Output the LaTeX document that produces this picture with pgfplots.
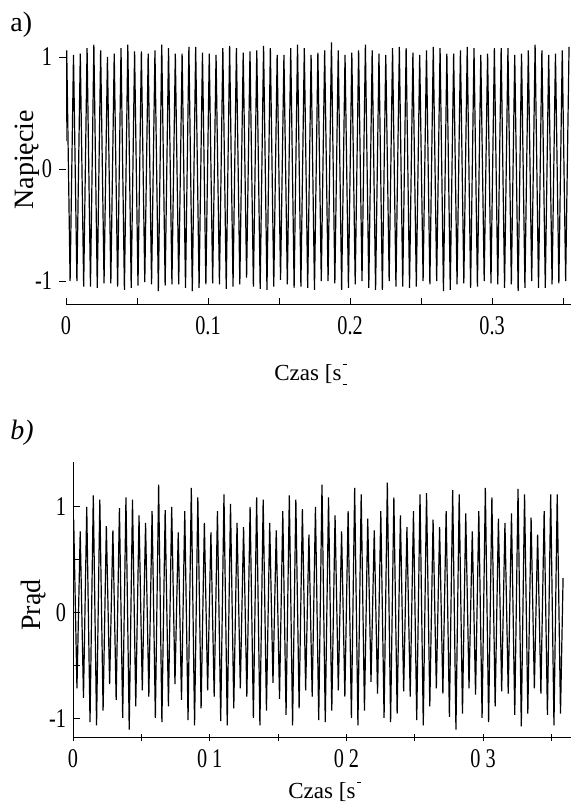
\documentclass[border=0pt]{standalone}
\usepackage{fontspec}
\setmainfont{Liberation Serif}
\newfontfamily\tickfont[FakeStretch=0.75]{Liberation Serif}
\usepackage{pgfplots}
\pgfplotsset{compat=1.18}

% clipped "]" left in the original scan
\newcommand{\brk}{\kern0.6pt\rlap{\rule[-0.22em]{0.2em}{0.05em}}\rule[0.66em]{0.2em}{0.05em}}
\newcommand{\brktop}{\kern0.8pt\rule[0.66em]{0.16em}{0.05em}}

\pgfplotsset{
  sig/.style={
    scale only axis,
    xmin=0,
    xtick={0,0.05,0.1,0.15,0.2,0.25,0.3,0.35},
    ytick={-1,-0.5,0,0.5,1},
    yticklabels={-1,,0,,1},
    tick label style={font=\tickfont\fontsize{13.5}{13.5}\selectfont},
    axis line style={-, line width=0.5pt},
    every tick/.style={black, line width=0.5pt},
    major tick length=3.5pt,
  },
}

\begin{document}
\begin{tikzpicture}
\path[use as bounding box] (0,0) rectangle (285.5pt,-403.5pt);

% a) voltage
\begin{axis}[sig,
    at={(33pt,-152.5pt)}, anchor=south west,
    width=252.5pt, height=135.2pt,
    xmax=0.3556, ymin=-1.214, ymax=1.2,
    axis x line*=bottom, axis y line*=left,
    y axis line style={draw=none},
    xticklabels={0,,0.1,,0.2,,0.3,},
    ytick={-1,0,1}, yticklabels={-1,0,1},
    xtick align=inside, ytick align=outside,
    xticklabel shift=2pt,
]
\addplot[black, line width=0.6pt] coordinates {
(0,0.25)
(0.00050,1.06) (0.00289,-1.00)
(0.00528,1.02) (0.00767,-1.00)
(0.01006,1.03) (0.01245,-1.05)
(0.01484,1.08) (0.01723,-1.05)
(0.01962,1.11) (0.02201,-1.06)
(0.02440,1.06) (0.02679,-1.02)
(0.02918,1.00) (0.03157,-1.02)
(0.03396,1.03) (0.03635,-1.05)
(0.03874,1.08) (0.04113,-1.08)
(0.04352,1.11) (0.04591,-1.06)
(0.04830,1.05) (0.05069,-1.04)
(0.05308,1.05) (0.05547,-1.01)
(0.05786,1.03) (0.06025,-1.03)
(0.06264,1.06) (0.06503,-1.09)
(0.06742,1.11) (0.06981,-1.04)
(0.07220,1.08) (0.07459,-1.03)
(0.07698,1.03) (0.07937,-1.03)
(0.08176,1.03) (0.08415,-1.06)
(0.08654,1.09) (0.08893,-1.09)
(0.09132,1.09) (0.09371,-1.06)
(0.09610,1.04) (0.09849,-1.03)
(0.10088,1.03) (0.10327,-1.02)
(0.10566,1.02) (0.10805,-1.03)
(0.11044,1.08) (0.11283,-1.07)
(0.11522,1.10) (0.11761,-1.05)
(0.12000,1.08) (0.12239,-1.03)
(0.12478,1.04) (0.12717,-0.97)
(0.12956,1.05) (0.13195,-1.05)
(0.13434,1.06) (0.13673,-1.07)
(0.13912,1.10) (0.14151,-1.08)
(0.14390,1.08) (0.14629,-1.05)
(0.14868,1.02) (0.15107,-0.99)
(0.15346,1.02) (0.15585,-1.03)
(0.15824,1.08) (0.16063,-1.06)
(0.16302,1.11) (0.16541,-1.05)
(0.16780,1.08) (0.17019,-1.06)
(0.17258,1.02) (0.17497,-1.08)
(0.17736,1.04) (0.17975,-1.00)
(0.18214,1.06) (0.18453,-1.00)
(0.18692,1.13) (0.18931,-1.02)
(0.19170,1.06) (0.19409,-1.08)
(0.19648,1.02) (0.19887,-1.06)
(0.20126,1.04) (0.20365,-1.03)
(0.20604,1.06) (0.20843,-1.00)
(0.21082,1.11) (0.21321,-1.06)
(0.21560,1.06) (0.21799,-1.08)
(0.22038,1.03) (0.22277,-1.08)
(0.22516,1.02) (0.22755,-1.00)
(0.22994,1.08) (0.23233,-1.05)
(0.23472,1.09) (0.23711,-1.05)
(0.23950,1.08) (0.24189,-1.06)
(0.24428,1.04) (0.24667,-1.05)
(0.24906,1.02) (0.25145,-1.00)
(0.25384,1.06) (0.25623,-1.03)
(0.25862,1.09) (0.26101,-1.00)
(0.26340,1.08) (0.26579,-1.09)
(0.26818,1.03) (0.27057,-1.08)
(0.27296,1.03) (0.27535,-1.03)
(0.27774,1.06) (0.28013,-1.02)
(0.28252,1.09) (0.28491,-1.06)
(0.28730,1.08) (0.28969,-1.05)
(0.29208,1.02) (0.29447,-1.00)
(0.29686,1.03) (0.29925,-1.02)
(0.30164,1.08) (0.30403,-1.03)
(0.30642,1.08) (0.30881,-1.06)
(0.31120,1.08) (0.31359,-1.03)
(0.31598,1.02) (0.31837,-1.09)
(0.32076,1.03) (0.32315,-1.06)
(0.32554,1.06) (0.32793,-1.00)
(0.33032,1.11) (0.33271,-1.06)
(0.33510,1.06) (0.33749,-1.06)
(0.33988,1.02) (0.34227,-1.03)
(0.34466,1.03) (0.34705,-1.02)
(0.34944,1.06) (0.35183,-1.00)
(0.35422,1.09)
};
\end{axis}

% b) current
\begin{axis}[sig,
    at={(36.5pt,-368.5pt)}, anchor=south west,
    width=249pt, height=137.5pt,
    xmax=0.3643, ymin=-1.17, ymax=1.4245,
    axis x line*=bottom, axis y line*=left,
    xticklabels={0,,0 1,,0 2,,0 3,},
    xtick align=center, ytick align=inside,
    xticklabel shift=1pt,
]
\addplot[black, line width=0.6pt] coordinates {
(0.00050,0.88) (0.00289,-0.71)
(0.00528,0.77) (0.00767,-0.80)
(0.01006,1.00) (0.01245,-1.03)
(0.01484,1.11) (0.01723,-1.06)
(0.01962,1.07) (0.02201,-0.92)
(0.02440,0.82) (0.02679,-0.67)
(0.02918,0.78) (0.03157,-0.82)
(0.03396,0.99) (0.03635,-0.99)
(0.03874,1.09) (0.04113,-1.10)
(0.04352,1.07) (0.04591,-0.88)
(0.04830,0.92) (0.05069,-0.73)
(0.05308,0.85) (0.05547,-0.79)
(0.05786,0.96) (0.06025,-0.99)
(0.06264,1.21) (0.06503,-1.03)
(0.06742,0.97) (0.06981,-0.88)
(0.07220,1.00) (0.07459,-0.67)
(0.07698,0.76) (0.07937,-0.82)
(0.08176,0.96) (0.08415,-1.01)
(0.08654,1.18) (0.08893,-1.06)
(0.09132,1.09) (0.09371,-0.90)
(0.09610,0.85) (0.09849,-0.73)
(0.10088,0.76) (0.10327,-0.79)
(0.10566,0.96) (0.10805,-1.02)
(0.11044,1.12) (0.11283,-1.06)
(0.11522,1.03) (0.11761,-0.90)
(0.12000,0.85) (0.12239,-0.71)
(0.12478,0.81) (0.12717,-0.79)
(0.12956,1.00) (0.13195,-0.99)
(0.13434,1.09) (0.13673,-1.06)
(0.13912,1.07) (0.14151,-0.92)
(0.14390,0.85) (0.14629,-0.66)
(0.14868,0.78) (0.15107,-0.81)
(0.15346,0.96) (0.15585,-0.96)
(0.15824,1.11) (0.16063,-1.06)
(0.16302,1.07) (0.16541,-0.90)
(0.16780,0.98) (0.17019,-0.73)
(0.17258,0.74) (0.17497,-0.79)
(0.17736,1.00) (0.17975,-1.01)
(0.18214,1.21) (0.18453,-1.03)
(0.18692,1.09) (0.18931,-0.92)
(0.19170,0.92) (0.19409,-0.73)
(0.19648,0.77) (0.19887,-0.79)
(0.20126,0.96) (0.20365,-0.99)
(0.20604,1.18) (0.20843,-1.06)
(0.21082,1.12) (0.21321,-0.92)
(0.21560,0.89) (0.21799,-0.65)
(0.22038,0.78) (0.22277,-0.76)
(0.22516,0.96) (0.22755,-0.99)
(0.22994,1.23) (0.23233,-1.03)
(0.23472,1.09) (0.23711,-0.95)
(0.23950,0.92) (0.24189,-0.74)
(0.24428,0.81) (0.24667,-0.79)
(0.24906,0.96) (0.25145,-1.01)
(0.25384,1.12) (0.25623,-1.06)
(0.25862,1.13) (0.26101,-0.88)
(0.26340,0.88) (0.26579,-0.71)
(0.26818,0.81) (0.27057,-0.76)
(0.27296,0.96) (0.27535,-0.98)
(0.27774,1.16) (0.28013,-1.10)
(0.28252,1.12) (0.28491,-0.95)
(0.28730,0.94) (0.28969,-0.71)
(0.29208,0.77) (0.29447,-0.77)
(0.29686,0.96) (0.29925,-0.99)
(0.30164,1.18) (0.30403,-1.03)
(0.30642,1.09) (0.30881,-0.88)
(0.31120,0.89) (0.31359,-0.74)
(0.31598,0.85) (0.31837,-0.76)
(0.32076,0.94) (0.32315,-0.96)
(0.32554,1.17) (0.32793,-1.07)
(0.33032,1.12) (0.33271,-0.95)
(0.33510,0.90) (0.33749,-0.71)
(0.33988,0.74) (0.34227,-0.76)
(0.34466,0.96) (0.34705,-0.96)
(0.34944,1.12) (0.35183,-1.06)
(0.35422,1.12) (0.35661,-0.95)
(0.35850,0.33)
};
\end{axis}

% panel letters and axis titles
\node[anchor=base west, inner sep=0, font=\fontsize{14}{16}\selectfont] at (5pt,-15.8pt) {a)};
\node[anchor=base west, inner sep=0, font=\fontsize{14}{16}\selectfont\itshape] at (5pt,-219.5pt) {b)};
\node[rotate=90, anchor=base west, inner sep=0, font=\fontsize{14}{15}\selectfont] at (16.5pt,-105pt) {Napięcie};
\node[rotate=90, anchor=base west, inner sep=0, font=\fontsize{14}{15}\selectfont] at (20pt,-315.5pt) {Prąd};
\node[anchor=base west, inner sep=0, font=\fontsize{11.5}{13}\selectfont] at (137pt,-190pt) {Czas [s\brk};
\node[anchor=base west, inner sep=0, font=\fontsize{11.5}{13}\selectfont] at (144pt,-399pt) {Czas [s\brktop};
\end{tikzpicture}
\end{document}
